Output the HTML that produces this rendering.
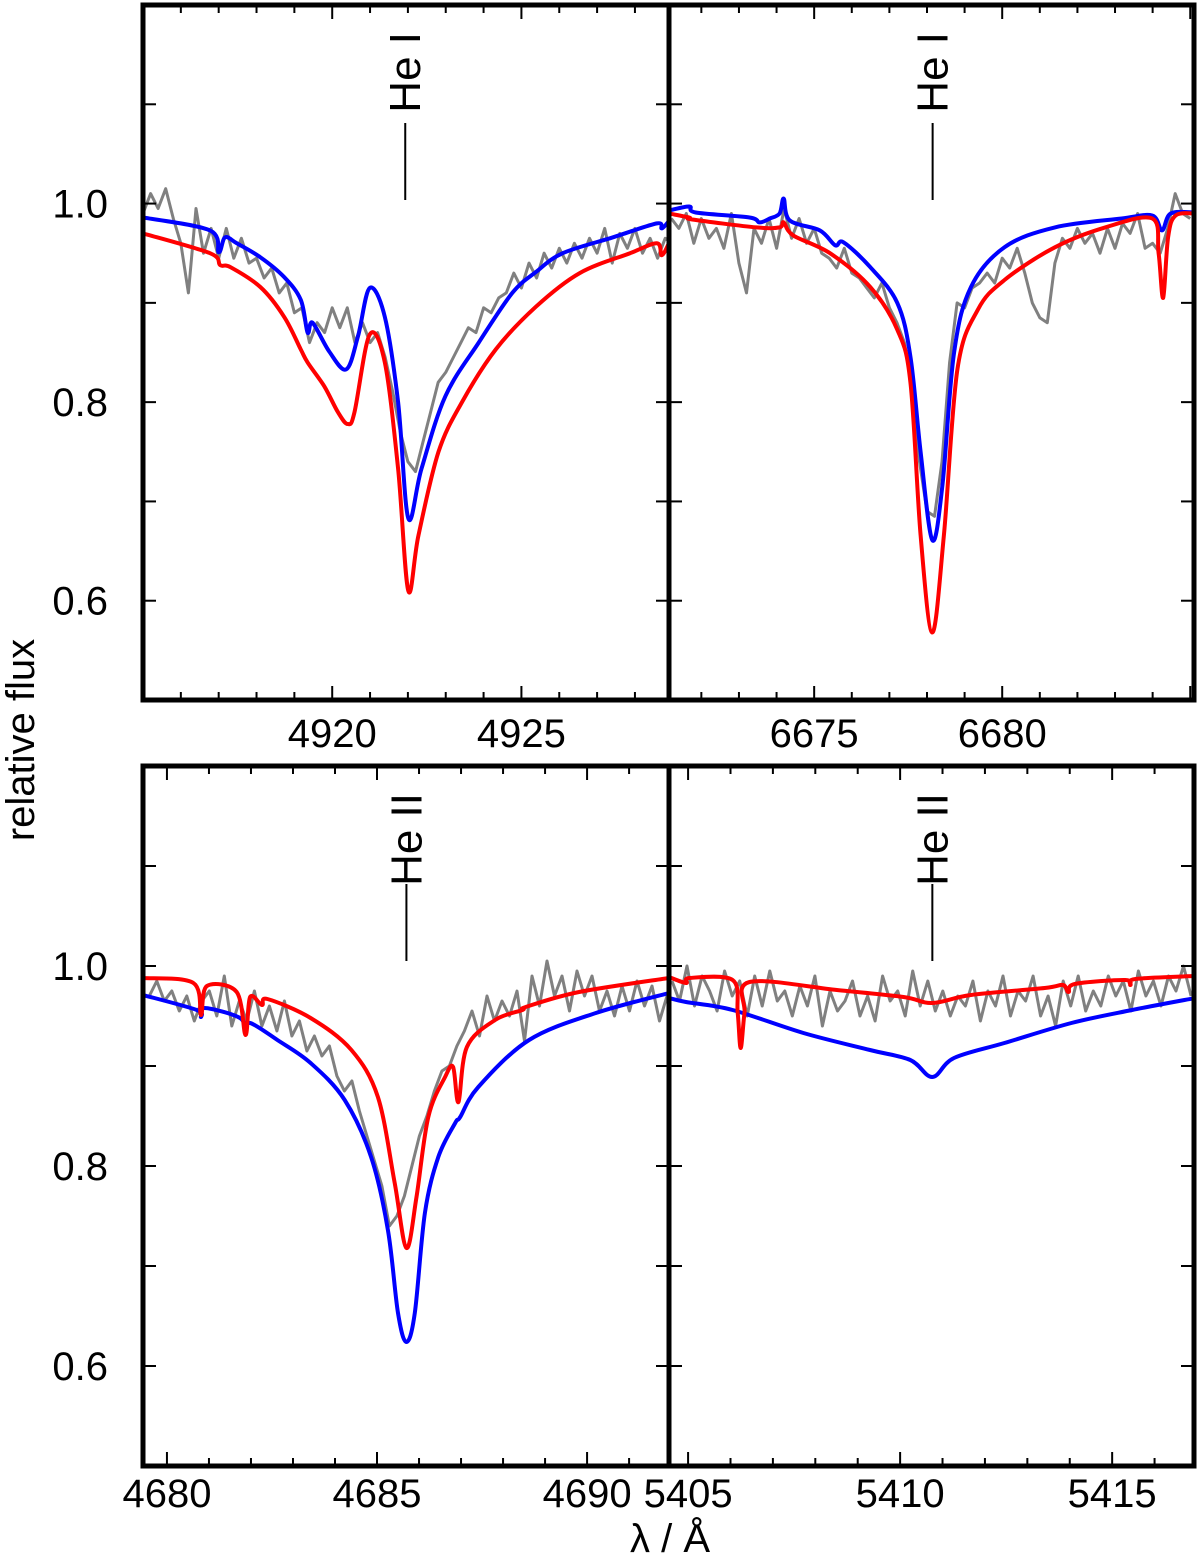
<!DOCTYPE html>
<html><head><meta charset="utf-8"><style>
body{margin:0;background:#fff}
svg text{font-family:"Liberation Sans",sans-serif;fill:#000}
</style></head><body>
<svg id="chart" width="1200" height="1558" viewBox="0 0 1200 1558" xmlns="http://www.w3.org/2000/svg"></svg>
<script>
// Panel data (wavelength in Å, relative flux)
const tlBlueX=[4915.0,4916.77,4917.0,4917.17,4917.48,4918.1,4918.73,4919.17,4919.35,4919.48,4919.92,4920.37,4920.68,4920.99,4921.39,4921.74,4922.01,4922.36,4922.99,4923.87,4924.76,4925.38,4926.09,4927.42,4928.58,4928.71,4928.91];
const tlBlueY=[.986,.973,.951,.966,.96,.946,.926,.903,.87,.88,.851,.833,.866,.915,.886,.80,.683,.733,.806,.86,.91,.931,.95,.966,.98,.975,.983];
const tlRedX=[4915.0,4916.77,4917.04,4917.31,4918.1,4918.73,4919.17,4919.35,4919.79,4920.15,4920.41,4920.59,4920.99,4921.39,4921.74,4922.01,4922.28,4922.81,4923.43,4924.32,4925.38,4926.54,4927.87,4928.58,4928.71,4928.91];
const tlRedY=[.97,.95,.938,.936,.916,.886,.853,.84,.816,.79,.778,.79,.868,.84,.733,.61,.666,.75,.80,.853,.896,.93,.95,.96,.948,.961];
const tlObsStart=[4915.0];
const tlObsStep=[0.2];
const tlObsY=[.99,1.01,.995,1.015,.985,.96,.91,.995,.95,.975,.945,.975,.945,.965,.94,.945,.925,.935,.91,.92,.89,.895,.86,.88,.87,.895,.875,.895,.86,.88,.86,.87,.845,.81,.77,.74,.73,.76,.79,.82,.83,.845,.86,.875,.87,.895,.89,.905,.91,.93,.915,.94,.925,.95,.935,.955,.94,.96,.945,.965,.95,.975,.94,.97,.955,.975,.95,.965,.945,.965,.96];

const trBlueX=[6671.14,6671.68,6671.85,6673.28,6673.55,6673.82,6674.08,6674.19,6674.35,6675.15,6675.56,6675.78,6676.49,6677.21,6677.56,6677.83,6678.14,6678.41,6678.72,6679.17,6680.06,6681.40,6683.18,6683.99,6684.25,6684.48,6685.13];
const trBlueY=[.993,.997,.991,.986,.981,.985,.99,1.005,.983,.973,.958,.961,.936,.90,.846,.75,.661,.716,.85,.916,.956,.976,.985,.988,.973,.99,.991];
const trRedX=[6671.14,6671.68,6671.76,6673.46,6674.08,6674.19,6674.44,6675.42,6676.49,6677.21,6677.56,6677.83,6678.14,6678.45,6678.81,6679.35,6680.06,6681.40,6682.74,6683.99,6684.16,6684.28,6684.41,6684.61,6685.13];
const trRedY=[.99,.986,.984,.976,.976,.981,.968,.95,.916,.873,.82,.666,.568,.666,.833,.893,.923,.956,.976,.985,.95,.905,.966,.988,.99];
const trObsStart=[6671.2];
const trObsStep=[0.2];
const trObsY=[.985,.975,.99,.96,.985,.965,.975,.955,.99,.94,.91,.975,.96,.985,.955,.995,.965,.985,.96,.975,.95,.945,.935,.955,.93,.925,.915,.905,.92,.895,.88,.86,.82,.74,.69,.685,.74,.84,.9,.895,.915,.92,.93,.92,.945,.935,.955,.93,.9,.885,.88,.94,.965,.955,.975,.96,.97,.95,.975,.955,.98,.97,.99,.955,.96,.95,.975,1.01,.99,.985];

const blBlueX=[4679.43,4680.71,4680.81,4680.90,4681.74,4681.87,4681.98,4682.63,4683.42,4684.23,4684.86,4685.26,4685.50,4685.70,4685.90,4686.14,4686.46,4686.86,4686.98,4687.41,4688.62,4690.21,4691.95];
const blBlueY=[.971,.956,.949,.958,.948,.934,.943,.926,.903,.866,.809,.736,.653,.624,.653,.753,.809,.843,.849,.879,.926,.953,.973];
const blRedX=[4679.43,4680.63,4680.81,4680.95,4681.66,4681.87,4681.98,4682.26,4682.39,4683.42,4684.39,4685.02,4685.42,4685.70,4685.94,4686.22,4686.62,4686.81,4686.94,4687.14,4687.81,4688.46,4688.54,4689.81,4691.95];
const blRedY=[.988,.983,.951,.98,.974,.931,.969,.961,.967,.948,.916,.869,.783,.718,.769,.849,.889,.899,.864,.919,.946,.956,.959,.974,.988];
const blObsStart=[4679.58];
const blObsStep=[0.1786];
const blObsY=[.97,.985,.965,.975,.955,.97,.945,.965,.975,.95,.99,.94,.965,.945,.975,.94,.96,.935,.965,.93,.945,.915,.93,.91,.92,.89,.875,.885,.855,.83,.805,.78,.74,.75,.77,.8,.83,.85,.875,.895,.9,.92,.935,.955,.93,.97,.945,.965,.95,.975,.925,.99,.96,1.005,.97,.99,.955,.995,.97,.99,.955,.975,.95,.98,.955,.985,.96,.98,.945,.97];

const brBlueX=[5404.55,5404.95,5406.05,5407.72,5409.29,5410.24,5410.76,5411.27,5412.46,5414.04,5415.47,5416.96];
const brBlueY=[.968,.964,.956,.933,.916,.906,.889,.908,.923,.943,.956,.968];
const brRedX=[5404.55,5404.95,5405.03,5406.05,5406.17,5406.24,5406.33,5406.45,5408.51,5410.08,5410.76,5411.67,5413.41,5413.84,5413.97,5414.12,5415.31,5415.43,5415.55,5416.96];
const brRedY=[.989,.983,.988,.986,.953,.918,.953,.984,.976,.969,.963,.971,.978,.981,.974,.982,.986,.981,.987,.99];
const brObsStart=[5404.62];
const brObsStep=[0.1774];
const brObsY=[.985,.965,1.0,.96,.99,.975,.955,.995,.97,.985,.95,.99,.96,.995,.965,.975,.95,.98,.96,.99,.94,.975,.955,.965,.985,.95,.97,.945,.99,.965,.975,.95,.995,.96,.985,.955,.975,.95,.97,.96,.985,.945,.975,.96,.99,.95,.975,.965,.99,.95,.97,.94,.985,.96,.99,.955,.975,.96,.99,.97,.985,.955,.995,.97,.985,.96,.99,.975,1.0,.97];

const xTickLabelsTL=[4920,4925], xTickLabelsTR=[6675,6680], xTickLabelsBL=[4680,4685,4690], xTickLabelsBR=[5405,5410,5415];
const yTickLabels=[0.6,0.8,1.0];
const lineLabels=["He I","He I","He II","He II"];
const lineCenters=[4921.93,6678.15,4685.70,5410.76];

const NS="http://www.w3.org/2000/svg";
const svg=document.getElementById('chart');
function el(tag,attrs,parent){const e=document.createElementNS(NS,tag);for(const k in attrs)e.setAttribute(k,attrs[k]);(parent||svg).appendChild(e);return e;}
function smoothPath(pts){
  let d='M'+pts[0][0].toFixed(1)+','+pts[0][1].toFixed(1);
  for(let i=0;i<pts.length-1;i++){
    const p0=pts[Math.max(0,i-1)],p1=pts[i],p2=pts[i+1],p3=pts[Math.min(pts.length-1,i+2)];
    const t=1/6;
    const c1=[p1[0]+(p2[0]-p0[0])*t,p1[1]+(p2[1]-p0[1])*t];
    const c2=[p2[0]-(p3[0]-p1[0])*t,p2[1]-(p3[1]-p1[1])*t];
    d+=' C'+c1[0].toFixed(1)+','+c1[1].toFixed(1)+' '+c2[0].toFixed(1)+','+c2[1].toFixed(1)+' '+p2[0].toFixed(1)+','+p2[1].toFixed(1);
  }
  return d;
}

const panels=[
 {id:'top-left',x0:143,x1:669,y0:5,y1:700,l0:4915.0,l1:4928.9,blueX:tlBlueX,blueY:tlBlueY,redX:tlRedX,redY:tlRedY,obsStart:tlObsStart,obsStep:tlObsStep,obsY:tlObsY,ticks:xTickLabelsTL,labelY:747,yLab:true},
 {id:'top-right',x0:669,x1:1194,y0:5,y1:700,l0:6671.14,l1:6685.1,blueX:trBlueX,blueY:trBlueY,redX:trRedX,redY:trRedY,obsStart:trObsStart,obsStep:trObsStep,obsY:trObsY,ticks:xTickLabelsTR,labelY:747,yLab:false},
 {id:'bottom-left',x0:143,x1:669,y0:766,y1:1466,l0:4679.43,l1:4691.95,blueX:blBlueX,blueY:blBlueY,redX:blRedX,redY:blRedY,obsStart:blObsStart,obsStep:blObsStep,obsY:blObsY,ticks:xTickLabelsBL,labelY:1507,yLab:true},
 {id:'bottom-right',x0:669,x1:1194,y0:766,y1:1466,l0:5404.55,l1:5416.93,blueX:brBlueX,blueY:brBlueY,redX:brRedX,redY:brRedY,obsStart:brObsStart,obsStep:brObsStep,obsY:brObsY,ticks:xTickLabelsBR,labelY:1507,yLab:false}
];

panels.forEach((p,pi)=>{
  const g=el('g',{});
  
  
  const X=l=>p.x0+(l-p.l0)/(p.l1-p.l0)*(p.x1-p.x0);
  const Y=f=>p.y1-(f-0.5)/0.7*(p.y1-p.y0);
  const clip=el('clipPath',{id:'clip'+pi},g);
  el('rect',{x:p.x0,y:p.y0,width:p.x1-p.x0,height:p.y1-p.y0},clip);
  const obsPts=p.obsY.map((v,i)=>X(p.obsStart[0]+p.obsStep[0]*i).toFixed(1)+','+Y(v).toFixed(1)).join(' ');
  const o=el('polyline',{points:obsPts,fill:'none',stroke:'#808080','stroke-width':3,'stroke-linejoin':'round','clip-path':'url(#clip'+pi+')'},g);
  
  
  const b=el('path',{d:smoothPath(p.blueX.map((l,i)=>[X(l),Y(p.blueY[i])])),fill:'none',stroke:'#0000ff','stroke-width':4,'stroke-linejoin':'round','clip-path':'url(#clip'+pi+')'},g);
  
  
  const r=el('path',{d:smoothPath(p.redX.map((l,i)=>[X(l),Y(p.redY[i])])),fill:'none',stroke:'#ff0000','stroke-width':4,'stroke-linejoin':'round','clip-path':'url(#clip'+pi+')'},g);
  
  
  for(let f=0.6;f<=1.15;f+=0.1){
    const y=Y(f);
    el('line',{x1:p.x0,x2:p.x0+13,y1:y,y2:y,stroke:'#000','stroke-width':2},g);
    el('line',{x1:p.x1-13,x2:p.x1,y1:y,y2:y,stroke:'#000','stroke-width':2},g);
  }
  for(let l=Math.ceil(p.l0);l<=p.l1;l++){
    const x=X(l),len=(l%5===0)?14:8;
    el('line',{x1:x,x2:x,y1:p.y1,y2:p.y1-len,stroke:'#000','stroke-width':2},g);
    el('line',{x1:x,x2:x,y1:p.y0,y2:p.y0+len,stroke:'#000','stroke-width':2},g);
  }
  p.ticks.forEach(v=>{
    const t=el('text',{x:X(v),y:p.labelY,'font-size':40,'text-anchor':'middle'},g);
    t.textContent=v;
    
    
  });
  if(p.yLab){yTickLabels.forEach(v=>{
    const t=el('text',{x:108,y:Y(v)+14,'font-size':40,'text-anchor':'end'},g);
    t.textContent=v.toFixed(1);
    
    
  });}
  const lx=X(lineCenters[pi]);
  el('line',{x1:lx,x2:lx,y1:p.y0+118,y2:p.y0+195,stroke:'#000','stroke-width':2},g);
  const lt=el('text',{x:0,y:0,'font-size':44,'text-anchor':'end',transform:`translate(${lx+15},${p.y0+27}) rotate(-90)`},g);
  lt.textContent=lineLabels[pi];
  
  
  const fr=el('rect',{x:p.x0,y:p.y0,width:p.x1-p.x0,height:p.y1-p.y0,fill:'none',stroke:'#000','stroke-width':5},g);
  
  
});
const yt=el('text',{x:0,y:0,'font-size':40,'text-anchor':'middle',transform:'translate(34,740) rotate(-90)'});
yt.textContent='relative flux';


const xt=el('text',{x:670,y:1552,'font-size':40,'text-anchor':'middle'});
xt.textContent='λ / Å';


</script>
</body></html>
